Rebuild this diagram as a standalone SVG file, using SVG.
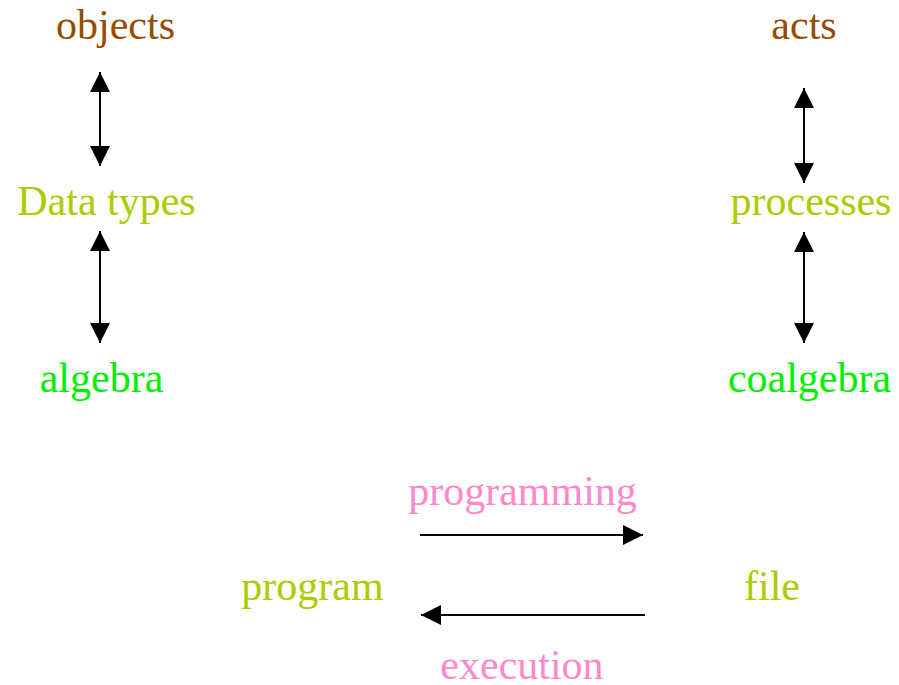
<svg xmlns="http://www.w3.org/2000/svg" width="899" height="685" viewBox="0 0 899 685">
<style>
text{font-family:"Liberation Serif","Times New Roman",serif;font-size:42px;text-anchor:middle}
.brown{fill:#964B00}
.ygreen{fill:#AACC00}
.green{fill:#00EE00}
.pink{fill:#FF88CC}
.conn{stroke:#000;stroke-width:2;fill:none}
</style>
<defs>
<marker id="ah" viewBox="0 0 20 20" refX="20" refY="10" markerWidth="20" markerHeight="20" markerUnits="userSpaceOnUse" orient="auto-start-reverse">
<path d="M0,0 L20,10 L0,20 Z" fill="#000"/>
</marker>
</defs>
<g id="objects"><text class="brown" x="115.5" y="39">objects</text></g>
<g id="datatypes"><text class="ygreen" x="106.5" y="215">Data types</text></g>
<g id="algebra"><text class="green" x="101.5" y="392">algebra</text></g>
<g id="acts"><text class="brown" x="804" y="39">acts</text></g>
<g id="processes"><text class="ygreen" x="811" y="215">processes</text></g>
<g id="coalgebra"><text class="green" x="809.5" y="392">coalgebra</text></g>
<g id="program"><text class="ygreen" x="312.5" y="600">program</text></g>
<g id="file"><text class="ygreen" x="772" y="600">file</text></g>
<g id="connectors">
<line class="conn" x1="100" y1="72" x2="100" y2="166" marker-start="url(#ah)" marker-end="url(#ah)"/>
<line class="conn" x1="100" y1="231" x2="100" y2="343" marker-start="url(#ah)" marker-end="url(#ah)"/>
<line class="conn" x1="804" y1="88" x2="804" y2="183" marker-start="url(#ah)" marker-end="url(#ah)"/>
<line class="conn" x1="804" y1="232" x2="804" y2="343" marker-start="url(#ah)" marker-end="url(#ah)"/>
<line class="conn" x1="420" y1="535" x2="643" y2="535" marker-end="url(#ah)"/>
<line class="conn" x1="645" y1="615" x2="421" y2="615" marker-end="url(#ah)"/>
<text class="pink" x="522.5" y="505">programming</text>
<text class="pink" x="522" y="679">execution</text>
</g>
</svg>
